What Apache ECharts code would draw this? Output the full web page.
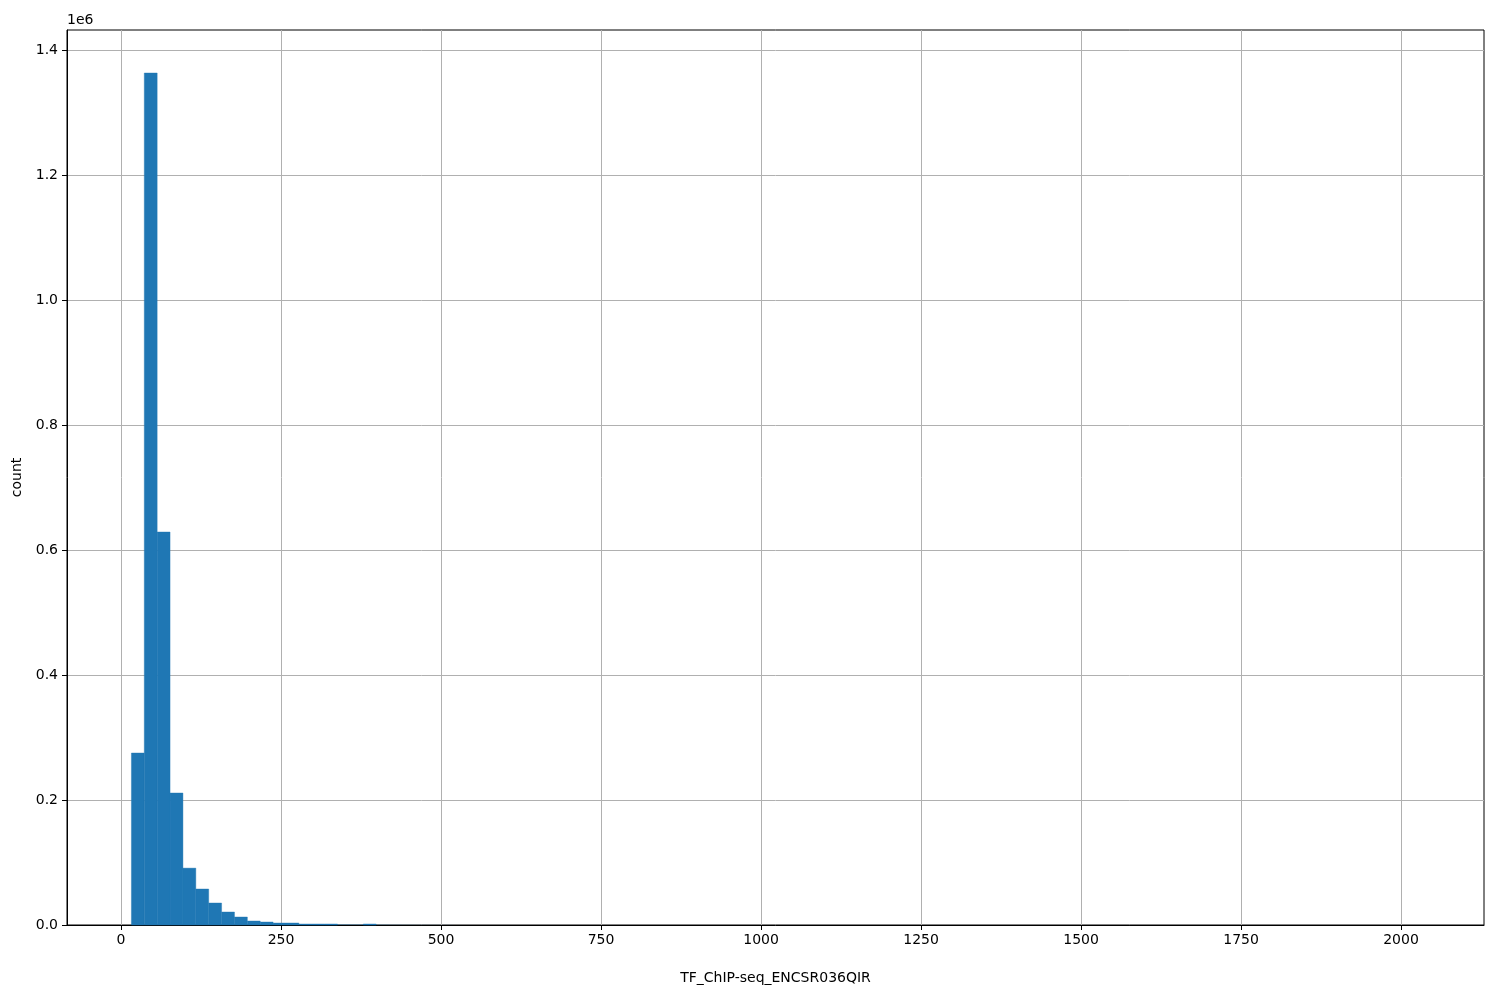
<!DOCTYPE html>
<html>
<head>
<meta charset="utf-8">
<script src="https://cdn.jsdelivr.net/npm/echarts@6/dist/echarts.min.js"></script>
<style>html,body{margin:0;padding:0;background:#fff}#c{width:1500px;height:1000px}</style>
</head>
<body>
<div id="c"></div>
<script>
// Histogram data (100 bins between dataMin and dataMax)
const dataMin = 16.2;
const dataMax = 2029.0;
const binCount = 100;
const counts = [
  275200, 1363200, 628800, 211200, 91000, 57600, 35200, 20800, 12800, 6400,
  4800, 3200, 3200, 1600, 1600, 1600, 600, 500, 1600, 300,
  200, 150, 100, 80, 60, 50, 40, 30, 25, 20,
  15, 12, 10, 8, 6, 5, 4, 4, 3, 3,
  2, 2, 2, 1, 1, 1, 1, 1, 1, 1,
  1, 0, 1, 0, 1, 0, 0, 1, 0, 0,
  1, 0, 0, 0, 1, 0, 0, 0, 0, 0,
  0, 0, 0, 0, 0, 0, 0, 0, 0, 0,
  0, 0, 0, 0, 0, 0, 0, 0, 0, 0,
  0, 0, 0, 0, 0, 0, 0, 0, 0, 1
];
const xTicks = [0, 250, 500, 750, 1000, 1250, 1500, 1750, 2000];
const yTicks = [0, 200000, 400000, 600000, 800000, 1000000, 1200000, 1400000];
const xLabel = 'TF_ChIP-seq_ENCSR036QIR';
const yLabel = 'count';

const binWidth = (dataMax - dataMin) / binCount;
const bins = counts.map((c, i) => [dataMin + i * binWidth, dataMin + (i + 1) * binWidth, c]);
const span = dataMax - dataMin;

const font = 'DejaVu Sans';
const fs = 14;
const chart = echarts.init(document.getElementById('c'));
chart.setOption({
  animation: false,
  grid: { left: 67, right: 16, top: 30, bottom: 75, show: true, borderColor: '#000', borderWidth: 1, backgroundColor: 'transparent' },
  xAxis: {
    type: 'value',
    min: dataMin - 0.05 * span,
    max: dataMax + 0.05 * span,
    name: xLabel,
    nameLocation: 'middle',
    nameGap: 46,
    nameTextStyle: { fontFamily: font, fontSize: fs, color: '#000' },
    axisLine: { show: true, onZero: false, lineStyle: { color: '#000', width: 1 } },
    axisTick: { show: true, length: 5, lineStyle: { color: '#000' }, customValues: xTicks },
    axisLabel: { fontFamily: font, fontSize: fs, color: '#000', margin: 8, customValues: xTicks,
      formatter: v => String(v) },
    splitLine: { show: true, lineStyle: { color: '#b0b0b0', width: 1 } }
  },
  yAxis: {
    type: 'value',
    min: 0,
    max: 1432000,
    interval: 200000,
    name: yLabel,
    nameLocation: 'middle',
    nameGap: 36,
    nameTextStyle: { fontFamily: font, fontSize: fs, color: '#000' },
    axisLine: { show: true, onZero: false, lineStyle: { color: '#000', width: 1 } },
    axisTick: { show: true, length: 5, lineStyle: { color: '#000' }, customValues: yTicks },
    axisLabel: { fontFamily: font, fontSize: fs, color: '#000', margin: 9, customValues: yTicks,
      formatter: v => (v / 1e6).toFixed(1) },
    splitLine: { show: true, lineStyle: { color: '#b0b0b0', width: 1 } }
  },
  graphic: [{ type: 'text', left: 67, top: 13, style: { text: '1e6', fontFamily: font, fontSize: fs, fill: '#000' } }],
  series: [{
    type: 'custom',
    data: bins,
    encode: { x: [0, 1], y: 2 },
    renderItem: function (params, api) {
      if (!(api.value(2) > 0)) return null;
      const p0 = api.coord([api.value(0), 0]);
      const p1 = api.coord([api.value(1), api.value(2)]);
      const h = p0[1] - p1[1];
      const style = h >= 1 ? { fill: '#1f77b4', stroke: '#1f77b4', lineWidth: 0.4 } : { fill: '#1f77b4' };
      return { type: 'rect', shape: { x: p0[0], y: p1[1], width: p1[0] - p0[0], height: h }, style: style };
    },
    z: 3
  }]
});
</script>
</body>
</html>
